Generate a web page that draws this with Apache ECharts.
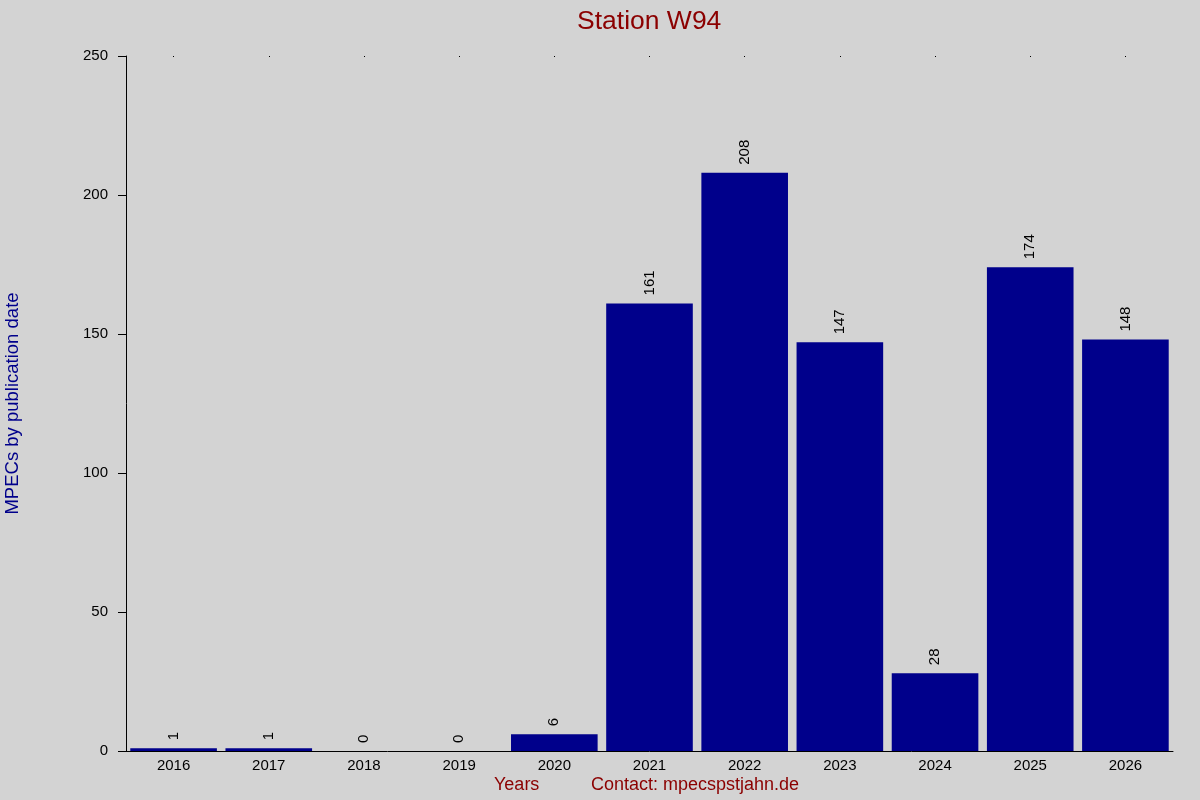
<!DOCTYPE html>
<html><head><meta charset="utf-8">
<script src="https://cdn.jsdelivr.net/npm/echarts@6/dist/echarts.min.js"></script>
<style>html,body{margin:0;padding:0;background:#d3d3d3}#c{width:1200px;height:800px}</style>
</head><body><div id="c"></div>
<script>
const years = ['2016','2017','2018','2019','2020','2021','2022','2023','2024','2025','2026'];
const counts = [1,1,0,0,6,161,208,147,28,174,148];
const yTicks = [0,50,100,150,200,250];

const chart = echarts.init(document.getElementById('c'));
chart.setOption({
  backgroundColor:'#d3d3d3',
  animation:false,
  title:{text:'Station W94',left:572,top:3,textStyle:{color:'#8b0000',fontSize:26.5,fontWeight:'normal',fontFamily:'Liberation Sans'}},
  grid:{left:126,right:27,top:56,bottom:49,outerBoundsMode:'none',containLabel:false},
  xAxis:[{
    type:'category',data:years,position:'bottom',
    axisLine:{lineStyle:{color:'#000',width:1}},
    axisTick:{show:false},
    axisLabel:{color:'#000',fontSize:15,fontFamily:'Liberation Sans',margin:7}
  },{
    type:'category',data:years,position:'top',
    axisLine:{show:false},
    axisTick:{show:true,alignWithLabel:true,length:1,inside:true,lineStyle:{color:'#000'}},
    axisLabel:{show:false}
  }],
  yAxis:{
    type:'value',min:yTicks[0],max:yTicks[yTicks.length-1],interval:50,
    name:'MPECs by publication date',nameLocation:'middle',nameGap:104,
    nameTextStyle:{color:'#00008b',fontSize:18.5,fontFamily:'Liberation Sans'},
    axisLine:{show:true,lineStyle:{color:'#000'}},
    axisTick:{show:true,length:8,lineStyle:{color:'#000'}},
    splitLine:{show:false},
    axisLabel:{color:'#000',fontSize:15,fontFamily:'Liberation Sans',margin:18}
  },
  series:[{
    type:'bar',data:counts,barCategoryGap:'9%',
    itemStyle:{color:'#00008b'},
    label:{show:true,position:'top',rotate:90,align:'left',verticalAlign:'middle',distance:8,
      color:'#000',fontSize:15,fontFamily:'Liberation Sans'}
  }],
  graphic:[
    {type:'text',left:494,top:776,style:{text:'Years',fill:'#8b0000',fontSize:18,fontFamily:'Liberation Sans'}},
    {type:'text',left:591,top:776,style:{text:'Contact: mpecspstjahn.de',fill:'#8b0000',fontSize:18,fontFamily:'Liberation Sans'}}
  ]
});
</script></body></html>
